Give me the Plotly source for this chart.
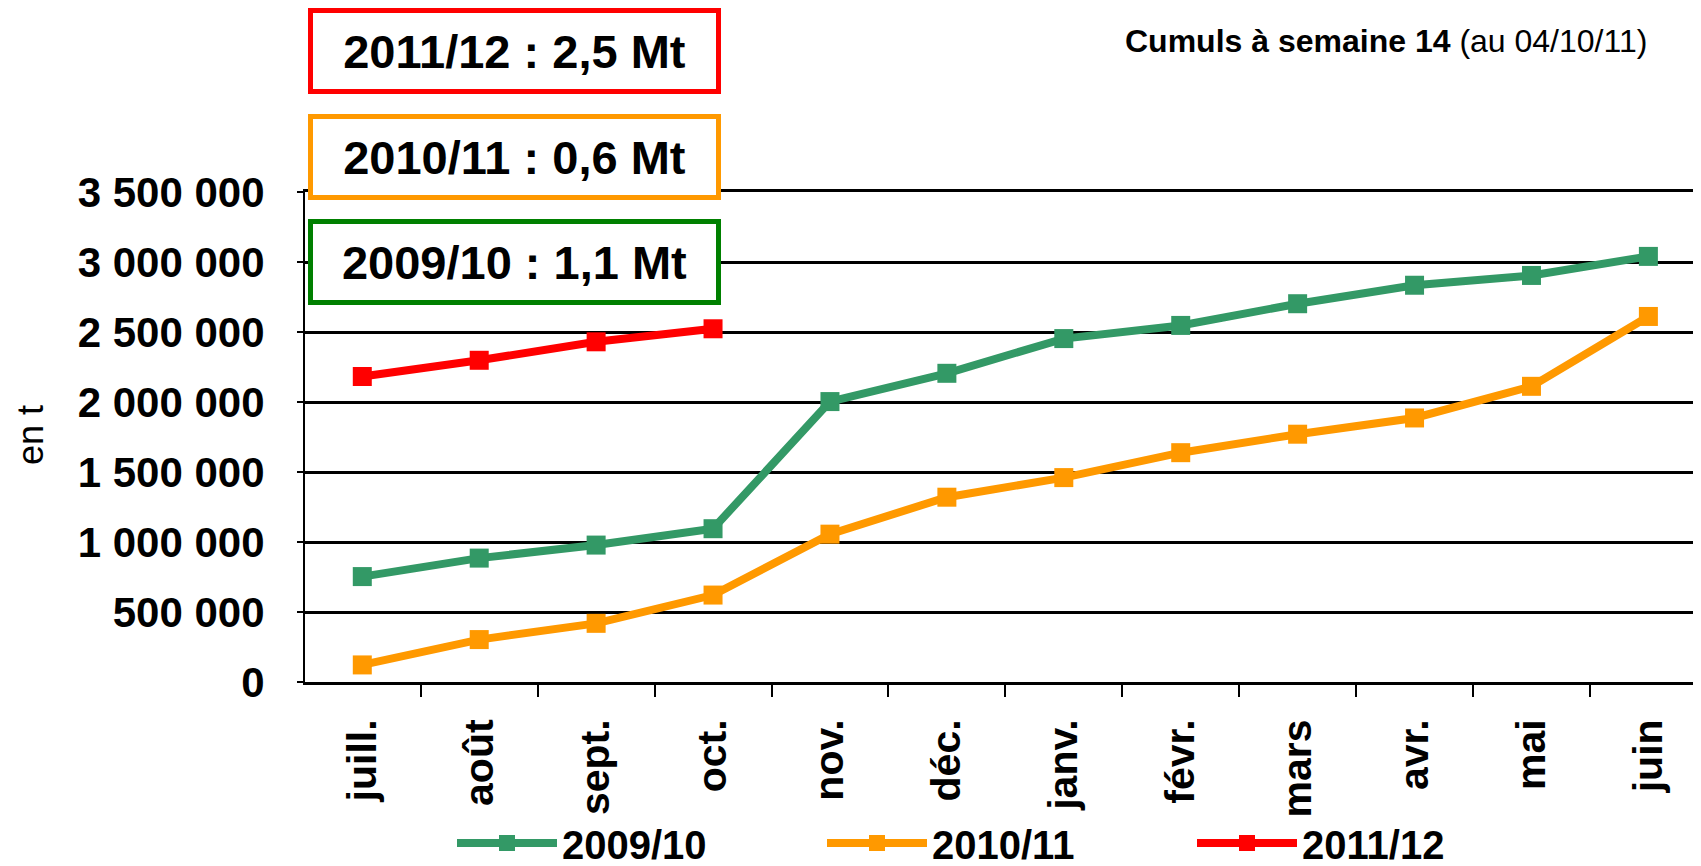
import plotly.graph_objects as go

months = ["juill.", "août", "sept.", "oct.", "nov.", "déc.", "janv.", "févr.", "mars", "avr.", "mai", "juin"]
s2009 = [753000, 885000, 978000, 1095000, 2003000, 2205000, 2453000, 2547000, 2702000, 2834000, 2904000, 3040000]
s2010 = [122000, 303000, 419000, 621000, 1056000, 1320000, 1460000, 1638000, 1770000, 1886000, 2112000, 2611000]
s2011 = [2182000, 2298000, 2430000, 2523000]
names = ["2009/10", "2010/11", "2011/12"]
colors = ["#339966", "#FF9900", "#FF0000"]
box_texts = ["2011/12 : 2,5 Mt", "2010/11 : 0,6 Mt", "2009/10 : 1,1 Mt"]
box_colors = ["#FF0000", "#FF9900", "#008000"]

OFF = 8  # page body margin
W, H = 1701 - OFF, 866 - OFF
L, R, T, B = 305 - OFF, 0, 192 - OFF, 866 - 682
pw, ph = W - L - R, H - T - B

def px(x):
    return (x - OFF - L) / pw

def py(y):
    return (H - B - (y - OFF)) / ph

FONT = "Liberation Sans, Arial, sans-serif"

fig = go.Figure()
for name, vals, col in zip(names, [s2009, s2010, s2011], colors):
    fig.add_trace(go.Scatter(
        x=months[:len(vals)], y=vals, name=name, mode="lines+markers",
        line=dict(color=col, width=8),
        marker=dict(symbol="square", size=19, color=col),
    ))

fig.update_layout(
    width=W, height=H,
    margin=dict(l=L, r=R, t=T, b=B, autoexpand=False),
    paper_bgcolor="white", plot_bgcolor="white",
    separators=", ",
    font=dict(family=FONT, color="black"),
    showlegend=True,
    legend=dict(
        orientation="h", x=px(452), y=py(843), xanchor="left", yanchor="middle",
        font=dict(family=FONT, size=40, weight="bold", color="black"),
        entrywidth=255, entrywidthmode="pixels", itemwidth=100,
        bgcolor="rgba(0,0,0,0)",
    ),
    xaxis=dict(
        type="category", categoryorder="array", categoryarray=months,
        range=[-0.49, 11.45], automargin=False,
        showline=True, linecolor="black", linewidth=3, mirror=True,
        ticks="outside", tickson="boundaries", ticklen=12, tickwidth=2, tickcolor="black",
        showgrid=False, tickangle=-90, ticklabelstandoff=18,
        tickfont=dict(family=FONT, size=41, weight="bold", color="black"),
    ),
    yaxis=dict(
        range=[0, 3500000], dtick=500000, tick0=0, tickformat=",d", automargin=False,
        showline=True, linecolor="black", linewidth=2,
        ticks="outside", ticklen=6, tickwidth=2, tickcolor="black",
        showgrid=True, gridcolor="black", gridwidth=3, zeroline=False,
        ticklabelstandoff=24,
        tickfont=dict(family=FONT, size=42, weight="bold", color="black"),
    ),
)

centers_y = [51, 157, 262.5]
for txt, bc, cy in zip(box_texts, box_colors, centers_y):
    fig.add_annotation(
        xref="paper", yref="paper", x=px(514.5), y=py(cy),
        xanchor="center", yanchor="middle", showarrow=False,
        text=txt, font=dict(family=FONT, size=47, weight="bold", color="black"),
        width=403, height=76, borderpad=0, borderwidth=5,
        bordercolor=bc, bgcolor="white",
    )

fig.add_annotation(
    xref="paper", yref="paper", x=px(1649), y=py(41),
    xanchor="right", yanchor="middle", showarrow=False,
    text="<b>Cumuls à semaine 14</b> (au 04/10/11)",
    font=dict(family=FONT, size=32, color="black"),
)
fig.add_annotation(
    xref="paper", yref="paper", x=px(30), y=py(435),
    xanchor="center", yanchor="middle", showarrow=False, textangle=-90,
    text="en t", font=dict(family=FONT, size=36, color="black"),
)

fig.write_html("out.html")
